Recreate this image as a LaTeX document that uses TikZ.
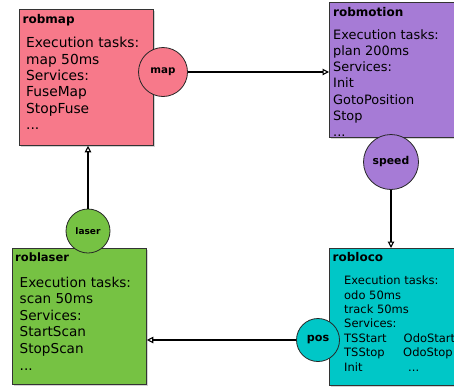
\documentclass[tikz,border=0pt]{standalone}
\usepackage{fontspec}
\setmainfont{DejaVu Sans}
\usetikzlibrary{arrows.meta,shadows}

\definecolor{mappink}{RGB}{247,121,138}
\definecolor{motionpurple}{RGB}{166,123,214}
\definecolor{lasergreen}{RGB}{118,194,67}
\definecolor{lococyan}{RGB}{0,199,199}

\newcommand{\fsz}[2]{\fontsize{#1}{#2}\selectfont}
\newcommand{\rows}[1]{\begin{tabular}[t]{@{}l@{}}#1\end{tabular}}

\begin{document}
\begin{tikzpicture}[x=1pt,y=-1pt,
    module/.style={draw=black!80, line width=0.8pt, anchor=north west, inner sep=0pt,
        drop shadow={shadow xshift=1.5pt, shadow yshift=-1.5pt, opacity=0.35}},
    port/.style={circle, draw=black!85, line width=0.8pt, inner sep=0pt},
    title/.style={anchor=base west, inner sep=0pt, font=\bfseries\fsz{12}{14}},
    body/.style={anchor=base west, inner sep=0pt},
    link/.style={line width=1.1pt, -{Triangle[open, length=6.5pt, width=6.5pt]}}]
        \useasboundingbox (0,0) rectangle (454,386);
        \clip (0,0) rectangle (454,386);
        % modules
        \node[module, fill=mappink, minimum width=134pt, minimum height=136pt] (robmap) at (19,9) {};
        \node[module, fill=motionpurple, minimum width=126pt, minimum height=135pt] (robmotion) at (329,2) {};
        \node[module, fill=lasergreen, minimum width=134pt, minimum height=136pt] (roblaser) at (12,248) {};
        \node[module, fill=lococyan, minimum width=126pt, minimum height=137pt] (robloco) at (329,248) {};
        % texts
        \node[title] (maptitle) at (22.5,23.3) {robmap};
        \node[body, font=\fsz{13.8}{16.4}] (maptext) at (26,47.7) {\rows{Execution tasks:\\ map 50ms\\ Services:\\ FuseMap\\ StopFuse\\ ...}};
        \node[title] (motiontitle) at (333,16.7) {robmotion};
        \node[body, font=\fsz{12.9}{16.3}] (motiontext) at (333,39) {\rows{Execution tasks:\\ plan 200ms\\ Services:\\ Init\\ GotoPosition\\ Stop\\ ...}};
        \node[title, font=\bfseries\fsz{11.5}{13}] (lasertitle) at (15,261.3) {roblaser};
        \node[body, font=\fsz{13.6}{16.6}] (lasertext) at (19.5,287) {\rows{Execution tasks:\\ scan 50ms\\ Services:\\ StartScan\\ StopScan\\ ...}};
        \node[title] (locotitle) at (332.5,261.3) {robloco};
        \node[body, font=\fsz{11.5}{14.4}] (locotext) at (344,284.7) {\rows{Execution tasks:\\ odo 50ms\\ track 50ms\\ Services:\\ \makebox[59.5pt][l]{TSStart}OdoStart\\ \makebox[59pt][l]{TSStop}OdoStop\\ \makebox[64pt][l]{Init}...}};
        % ports
        \node[port, fill=mappink, minimum size=49pt, font=\bfseries\fsz{10.3}{12}] (map) at (163,72) {map};
        \node[port, fill=motionpurple, minimum size=55pt, font=\bfseries\fsz{10.8}{13}] (speed) at (391,162) {speed};
        \node[port, fill=lasergreen, minimum size=44pt, font=\bfseries\fsz{9}{11}] (laser) at (88,231) {laser};
        \node[port, fill=lococyan, minimum size=43pt, font=\bfseries\fsz{11.2}{13}] (pos) at (318,340) {pos};
        % links
        \draw[link] (map) -- (map -| robmotion.west);
        \draw[link] (speed) -- (speed |- robloco.north);
        \draw[link] (laser) -- (laser |- robmap.south);
        \draw[link] (pos) -- (pos -| roblaser.east);
    \end{tikzpicture}
\end{document}
